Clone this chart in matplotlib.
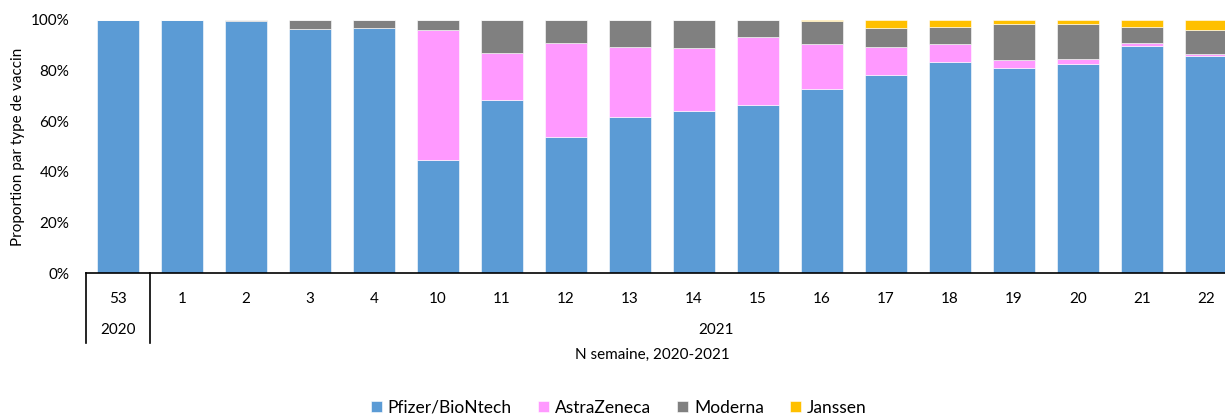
import numpy as np
import matplotlib.pyplot as plt
import matplotlib.transforms as mtransforms

semaines = ['53', '1', '2', '3', '4', '10', '11', '12', '13', '14', '15',
            '16', '17', '18', '19', '20', '21', '22']
annees = ['2020', '2021']
pfizer = [100, 100, 99.5, 96.3, 96.6, 44.7, 68.4, 53.8, 61.5, 63.9, 66.3,
          72.7, 78.3, 83.5, 80.8, 82.6, 89.8, 85.9]
astrazeneca = [0, 0, 0, 0, 0, 51.2, 18.6, 37.2, 27.8, 25.0, 27.1,
               17.9, 11.0, 6.9, 3.4, 2.0, 1.0, 0.5]
moderna = [0, 0, 0.5, 3.7, 3.4, 4.1, 13.0, 9.0, 10.7, 11.1, 6.6,
           9.0, 7.3, 6.8, 14.1, 13.7, 6.2, 9.5]
janssen = [0, 0, 0, 0, 0, 0, 0, 0, 0, 0, 0,
           0.4, 3.4, 2.8, 1.7, 1.7, 3.0, 4.1]

series = [('Pfizer/BioNtech', pfizer, '#5B9BD5'),
          ('AstraZeneca', astrazeneca, '#FF99FF'),
          ('Moderna', moderna, '#808080'),
          ('Janssen', janssen, '#FFC000')]


def main():
    plt.rcParams['font.family'] = ['Lato', 'DejaVu Sans']
    fig = plt.figure(figsize=(12.25, 4.17), dpi=100)
    ax = fig.add_axes([0.0702, 0.3453, 0.93, 0.607])

    x = np.arange(len(semaines))
    bottom = np.zeros(len(semaines))
    for nom, vals, col in series:
        vals = np.array(vals, dtype=float)
        ax.bar(x, vals, 0.66, bottom=bottom, color=col, label=nom,
               edgecolor='white', linewidth=0.4)
        bottom += vals

    ax.set_xlim(-0.5, 17.3)
    ax.set_ylim(0, 100)
    ax.set_yticks(np.arange(0, 101, 20))
    ax.set_yticklabels(['%d%%' % v for v in range(0, 101, 20)], fontsize=11)
    ax.tick_params(axis='y', length=0, pad=12)
    ax.set_xticks(x)
    ax.set_xticklabels(semaines, fontsize=11)
    ax.tick_params(axis='x', length=0, pad=14)
    for s in ['top', 'right', 'left']:
        ax.spines[s].set_visible(False)
    ax.spines['bottom'].set_linewidth(1.2)
    ax.set_ylabel('Proportion par type de vaccin', fontsize=11)
    ax.yaxis.set_label_coords(-0.0535, 0.5)

    trans = mtransforms.blended_transform_factory(ax.transData, ax.transAxes)
    for xv in [-0.5, 0.5]:
        ax.plot([xv, xv], [0, -0.277], color='black', lw=1.2,
                transform=trans, clip_on=False)
    ax.text(0, -0.225, annees[0], transform=trans, ha='center', va='center',
            fontsize=11)
    ax.text(9.35, -0.225, annees[1], transform=trans, ha='center',
            va='center', fontsize=11)
    ax.text(8.35, -0.324, 'N semaine, 2020-2021', transform=trans,
            ha='center', va='center', fontsize=11)

    fig.legend(loc='center', bbox_to_anchor=(0.505, 0.022), ncol=4,
               frameon=False, fontsize=12.5, handlelength=0.63,
               handleheight=0.63, handletextpad=0.35, columnspacing=1.5)

    plt.savefig('out.png', dpi=100)


if __name__ == '__main__':
    main()
